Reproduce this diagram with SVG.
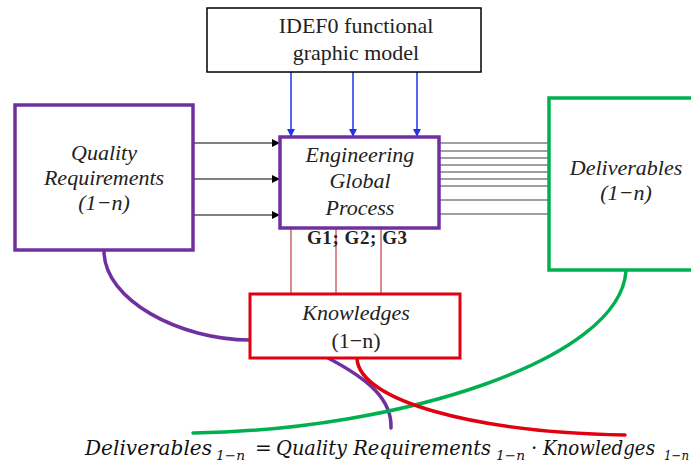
<svg xmlns="http://www.w3.org/2000/svg" width="691" height="463" viewBox="0 0 691 463">
  <defs>
    <marker id="arrowBlue" markerWidth="8" markerHeight="8" refX="7" refY="4" orient="auto" markerUnits="userSpaceOnUse">
      <path d="M0,0 L8,4 L0,8 Z" fill="#2233ee"/>
    </marker>
    <marker id="arrowBlack" markerWidth="8" markerHeight="8" refX="7" refY="4" orient="auto" markerUnits="userSpaceOnUse">
      <path d="M0,0 L8,4 L0,8 Z" fill="#000"/>
    </marker>
  </defs>
  <style>
    .box { fill: #fff; }
    .purple { stroke: #7030a0; stroke-width: 3.5; }
    .green { stroke: #00b050; stroke-width: 3.5; }
    .red { stroke: #e00010; stroke-width: 3; }
    .plain { stroke: #000; stroke-width: 1.5; }
    .lbl { font-family: "Liberation Serif", "Times New Roman", serif; font-size: 22px; fill: #222; text-anchor: middle; }
    .it { font-style: italic; }
    .ctrl { stroke: #2233ee; stroke-width: 1.5; fill: none; marker-end: url(#arrowBlue); }
    .input { stroke: #000; stroke-width: 1.2; fill: none; marker-end: url(#arrowBlack); }
    .output { stroke: #808080; stroke-width: 1.6; fill: none; }
    .mech { stroke: #c0504d; stroke-width: 1.3; fill: none; }
    .curve { fill: none; stroke-width: 3.5; stroke-linecap: round; }
    .formula { font-family: "DejaVu Serif", "Liberation Serif", serif; font-style: italic; font-size: 20px; fill: #111; }
    .sub { font-family: "DejaVu Serif", "Liberation Serif", serif; font-style: italic; font-size: 13px; fill: #111; }
    .op { font-family: "DejaVu Serif", "Liberation Serif", serif; font-size: 20px; fill: #111; }
  </style>
  <rect width="691" height="463" fill="#fff"/>

  <!-- connectors -->
  <g id="connectors">
    <!-- controls from the IDEF0 model -->
    <line class="ctrl" x1="291" y1="72" x2="291" y2="136"/>
    <line class="ctrl" x1="353" y1="72" x2="353" y2="136"/>
    <line class="ctrl" x1="417" y1="72" x2="417" y2="136"/>
    <!-- inputs -->
    <line class="input" x1="194" y1="143" x2="279" y2="143"/>
    <line class="input" x1="194" y1="179" x2="279" y2="179"/>
    <line class="input" x1="194" y1="215" x2="279" y2="215"/>
    <!-- outputs -->
    <g class="output">
      <line x1="440" y1="143" x2="548" y2="143"/>
      <line x1="440" y1="151" x2="548" y2="151"/>
      <line x1="440" y1="158" x2="548" y2="158"/>
      <line x1="440" y1="165" x2="548" y2="165"/>
      <line x1="440" y1="172" x2="548" y2="172"/>
      <line x1="440" y1="179" x2="548" y2="179"/>
      <line x1="440" y1="186" x2="548" y2="186"/>
      <line x1="440" y1="200" x2="548" y2="200"/>
      <line x1="440" y1="214" x2="548" y2="214"/>
    </g>
    <!-- mechanisms -->
    <line class="mech" x1="291" y1="229" x2="291" y2="294"/>
    <line class="mech" x1="336" y1="229" x2="336" y2="294"/>
    <line class="mech" x1="381" y1="229" x2="381" y2="294"/>
    <!-- relation curves -->
    <path class="curve" stroke="#7030a0" d="M104,251 C104,300 180,340 250,340"/>
    <path class="curve" stroke="#7030a0" d="M328,358 C370,380 392,400 391,428"/>
    <path class="curve" stroke="#00b050" d="M193,433 C400,430 620,360 626,271"/>
    <path class="curve" stroke="#e00010" d="M357,359 C360,400 470,432 625,435"/>
  </g>

  <g id="idef0">
    <rect class="box plain" x="207" y="8" width="274" height="64"/>
    <text class="lbl" x="356" y="33">IDEF0 functional</text>
    <text class="lbl" x="356" y="60">graphic model</text>
  </g>

  <g id="quality">
    <rect class="box purple" x="15" y="105" width="178" height="145"/>
    <text class="lbl it" x="104" y="160">Quality</text>
    <text class="lbl it" x="104" y="185">Requirements</text>
    <text class="lbl it" x="104" y="210">(1−n)</text>
  </g>

  <g id="engineering">
    <rect class="box purple" x="280" y="137" width="159" height="91"/>
    <text class="lbl it" x="360" y="162">Engineering</text>
    <text class="lbl it" x="360" y="188">Global</text>
    <text class="lbl it" x="360" y="215">Process</text>
  </g>

  <g id="deliverables">
    <rect class="box green" x="549" y="98" width="150" height="172"/>
    <text class="lbl it" x="626" y="175">Deliverables</text>
    <text class="lbl it" x="626" y="200">(1−n)</text>
  </g>

  <g id="knowledges">
    <rect class="box red" x="250" y="294" width="210" height="64"/>
    <text class="lbl it" x="356" y="320">Knowledges</text>
    <text class="lbl" x="356" y="348">(1−n)</text>
  </g>

  <g id="mechanism-label">
    <text x="357" y="244" font-family="'Liberation Serif', 'Times New Roman', serif" font-size="19" font-weight="bold" fill="#222" text-anchor="middle" textLength="100" lengthAdjust="spacing">G1; G2; G3</text>
  </g>

  <g id="formula">
    <text class="formula" x="85" y="455" textLength="127" lengthAdjust="spacingAndGlyphs">Deliverables</text>
    <text class="sub" x="216" y="460" textLength="29" lengthAdjust="spacingAndGlyphs">1−n</text>
    <text class="op" x="255" y="455">=</text>
    <text class="formula" x="276" y="455" textLength="215" lengthAdjust="spacingAndGlyphs">Quality Requirements</text>
    <text class="sub" x="496" y="460" textLength="29" lengthAdjust="spacingAndGlyphs">1−n</text>
    <text class="op" x="531" y="455">·</text>
    <text class="formula" x="543" y="455" textLength="112" lengthAdjust="spacingAndGlyphs">Knowledges</text>
    <text class="sub" x="664" y="460" textLength="25" lengthAdjust="spacingAndGlyphs">1−n</text>
  </g>
</svg>
